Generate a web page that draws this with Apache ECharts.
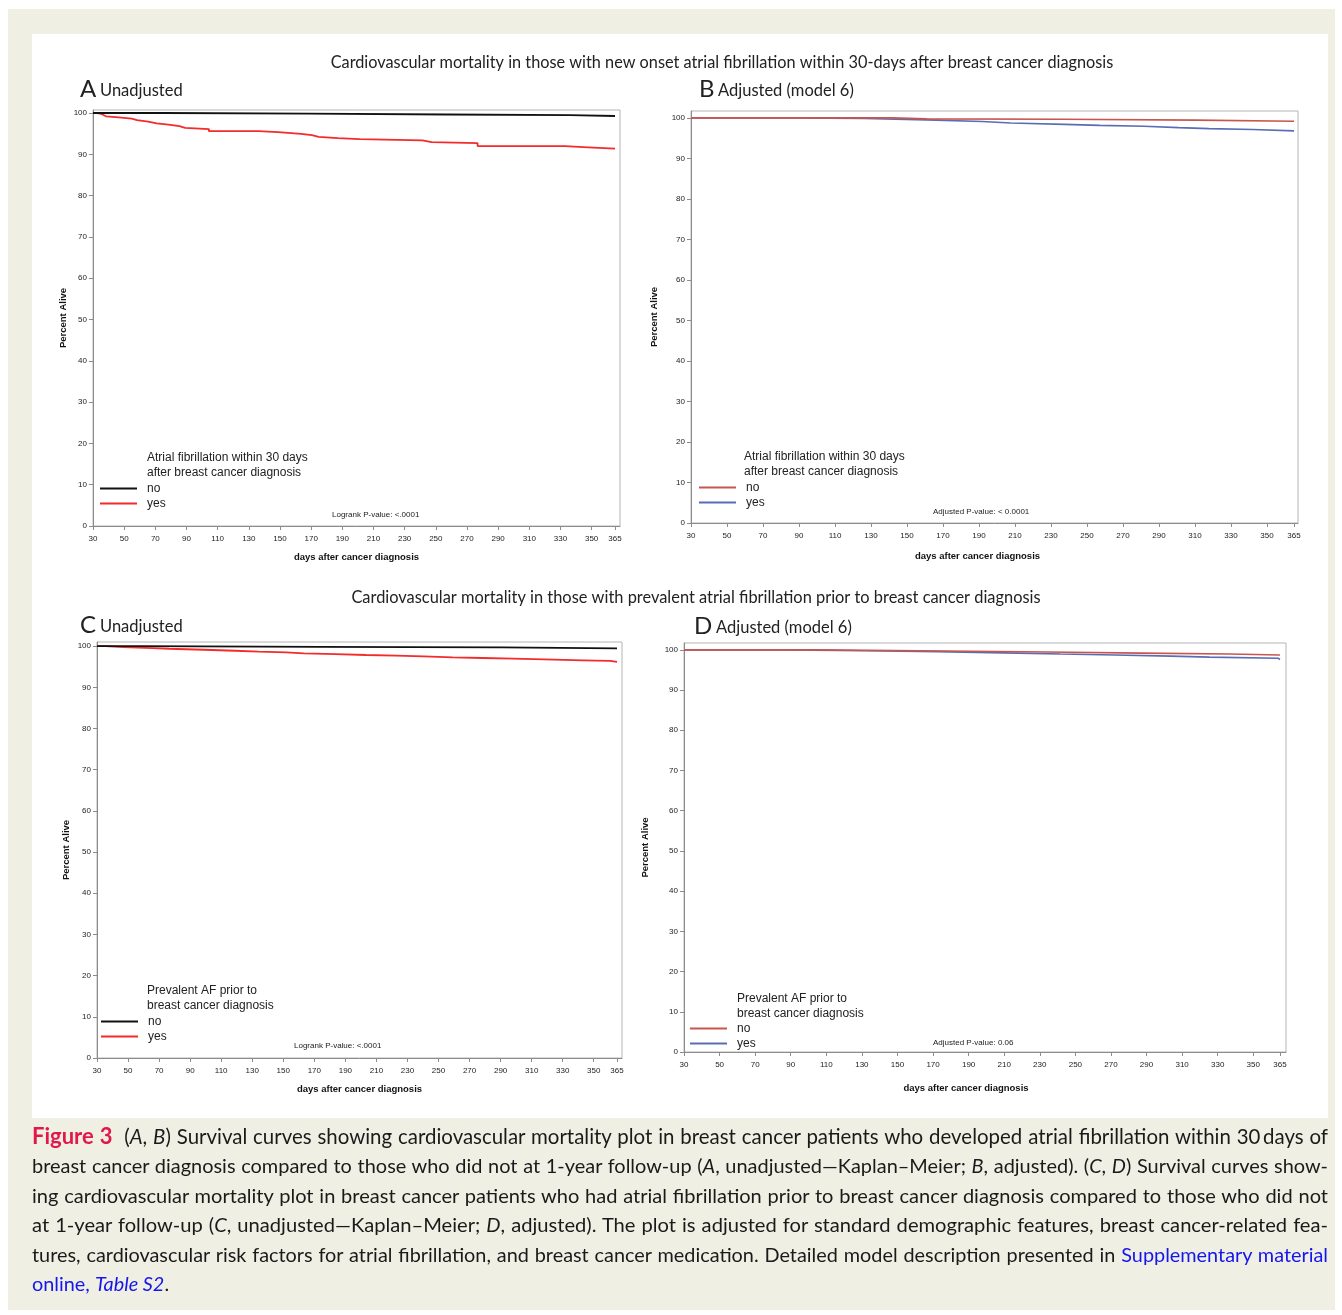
<!DOCTYPE html>
<html><head><meta charset="utf-8">
<script src="https://cdn.jsdelivr.net/npm/echarts@6/dist/echarts.min.js"></script>
<style>
html,body{margin:0;padding:0;background:#fff;}
#frame{position:absolute;left:8px;top:9px;width:1327px;height:1301px;background:#efefe4;}
#chart{position:absolute;left:0;top:0;width:1342px;height:1315px;}
#cap{position:absolute;left:32px;top:1121px;width:1296px;font-family:Lato,'Open Sans',sans-serif;font-size:20px;color:#1a1a1a;line-height:29.4px;}
#cap div{text-align:justify;text-align-last:justify;height:auto;}
#cap div.last{text-align-last:left;}
.fig{color:#e2184a;font-weight:bold;font-size:22px;}
.lk{color:#1515ee;}
</style></head>
<body>
<div id="frame"></div>
<div id="chart"></div>
<div id="cap">
<div><span class="fig">Figure 3</span>&nbsp; (<i>A</i>, <i>B</i>) Survival curves showing cardiovascular mortality plot in breast cancer patients who developed atrial fibrillation within 30&#8201;days of</div>
<div>breast cancer diagnosis compared to those who did not at 1-year follow-up (<i>A</i>, unadjusted—Kaplan–Meier; <i>B</i>, adjusted). (<i>C</i>, <i>D</i>) Survival curves show-</div>
<div>ing cardiovascular mortality plot in breast cancer patients who had atrial fibrillation prior to breast cancer diagnosis compared to those who did not</div>
<div>at 1-year follow-up (<i>C</i>, unadjusted—Kaplan–Meier; <i>D</i>, adjusted). The plot is adjusted for standard demographic features, breast cancer-related fea-</div>
<div>tures, cardiovascular risk factors for atrial fibrillation, and breast cancer medication. Detailed model description presented in <span class="lk">Supplementary material</span></div>
<div class="last"><span class="lk">online, <i>Table S2</i></span>.</div>
</div>
<script>
// ---------- data ----------
const xTicks = [30,50,70,90,110,130,150,170,190,210,230,250,270,290,310,330,350,365];
const yTicks = [0,10,20,30,40,50,60,70,80,90,100];

// Panel A: new onset AF, unadjusted (Kaplan-Meier)
const aNoDays  = [30, 75, 168, 257, 336, 365];
const aNoPct   = [100, 99.84, 99.64, 99.48, 99.28, 99.28];
const aYesDays = [30, 32.4, 34.7, 36.4, 38.3, 46.5, 54.8, 58.3, 65.4, 70.9, 78.4, 85.5, 89.1, 104.4, 136.3, 148.8, 163.5, 170.5, 174.8, 187.1, 201.2, 241.4, 247.3, 276.8, 333.0, 347.7, 365];
const aYesPct  = [100, 99.84, 99.6, 99.2, 98.96, 98.64, 98.3, 97.9, 97.5, 97.2, 96.8, 96.4, 96.1, 95.6, 95.36, 94.96, 94.64, 94.24, 93.9, 93.7, 93.36, 92.96, 92.7, 92.0, 91.7, 91.36, 91.36];

// Panel B: new onset AF, adjusted (model 6)
const bNoDays  = [30, 142.2, 160.9, 236.3, 310.5, 365];
const bNoPct   = [100, 99.76, 99.68, 99.44, 99.16, 99.16];
const bYesDays = [30, 86.9, 125.9, 160.9, 191.7, 207.7, 237.4, 257, 281.5, 301, 317.7, 342.2, 365];
const bYesPct  = [100, 99.84, 99.52, 99.12, 98.72, 98.4, 98.16, 97.92, 97.6, 97.36, 97.12, 96.8, 96.8];

// Panel C: prevalent AF, unadjusted
const cNoDays  = [30, 57.6, 173.6, 291, 365];
const cNoPct   = [100, 99.84, 99.68, 99.44, 99.44];
const cYesDays = [30, 35.2, 47, 65.8, 76.4, 98.9, 118.9, 134.2, 151.9, 163.2, 183.7, 203.3, 222.6, 240.3, 259.2, 278, 298, 318, 343, 360.6, 365];
const cYesPct  = [100, 99.76, 99.52, 99.36, 99.12, 98.88, 98.64, 98.48, 98.24, 98.08, 97.84, 97.68, 97.52, 97.28, 97.12, 96.96, 96.8, 96.56, 96.4, 96.16, 96.16];

// Panel D: prevalent AF, adjusted (model 6)
const dNoDays  = [30, 104.5, 177.2, 233.6, 287.5, 336.7, 365];
const dNoPct   = [100, 99.7, 99.48, 99.18, 98.95, 98.73, 98.73];
const dYesDays = [30, 86.1, 132, 172.3, 209.6, 241.6, 272.3, 303.6, 325.3, 364, 365];
const dYesPct  = [100, 99.78, 99.55, 99.25, 98.95, 98.73, 98.43, 98.2, 97.9, 97.6, 97.6];

const titleTop = 'Cardiovascular mortality in those with new onset atrial fibrillation within 30-days after breast cancer diagnosis';
const titleBottom = 'Cardiovascular mortality in those with prevalent atrial fibrillation prior to breast cancer diagnosis';
const legendHeadTop = 'Atrial fibrillation within 30 days\nafter breast cancer diagnosis';
const legendHeadBottom = 'Prevalent AF prior to\nbreast cancer diagnosis';
const groupNames = ['no', 'yes'];
const xName = 'days after cancer diagnosis';
const yName = 'Percent Alive';

// ---------- layout / styles ----------
const NARROW = "'Liberation Sans Narrow','Arial Narrow','Liberation Sans',Arial,sans-serif";
const ARIAL = "'Liberation Sans',Arial,sans-serif";
const HUM = "Lato,'Open Sans',sans-serif";

const panels = [
  {key:'A', letter:'A', sub:'Unadjusted', lx:80, ly:90, subGap:20, left:93, top:110, width:527, height:416, xmin:30, xmax:368.2, ymax:100.73,
   noD:aNoDays, noP:aNoPct, yesD:aYesDays, yesP:aYesPct, colors:['#111111','#f52a2a'], width2:1.8,
   head:legendHeadTop, hx:147, hy:465.5, legX:100, legY:481, pText:'Logrank P-value: <.0001', px:332, py:515,
   yGap:25, xGap:26, xNamePad:0},
  {key:'B', letter:'B', sub:'Adjusted (model 6)', lx:699, ly:90, subGap:19, left:691, top:111, width:607, height:412, xmin:30, xmax:367.2, ymax:101.7,
   noD:bNoDays, noP:bNoPct, yesD:bYesDays, yesP:bYesPct, colors:['#c8564e','#5a6cb5'], width2:1.6,
   head:legendHeadTop, hx:744, hy:464.5, legX:699, legY:480, pText:'Adjusted P-value: < 0.0001', px:933, py:512,
   yGap:32, xGap:28, xNamePad:34},
  {key:'C', letter:'C', sub:'Unadjusted', lx:80, ly:626, subGap:20, left:97, top:642, width:525, height:416, xmin:30, xmax:368.2, ymax:101.0,
   noD:cNoDays, noP:cNoPct, yesD:cYesDays, yesP:cYesPct, colors:['#111111','#f52a2a'], width2:1.8,
   head:legendHeadBottom, hx:147, hy:998.5, legX:101, legY:1014, pText:'Logrank P-value: <.0001', px:294, py:1046,
   yGap:26, xGap:26, xNamePad:0},
  {key:'D', letter:'D', sub:'Adjusted (model 6)', lx:694, ly:627, subGap:22, left:684, top:643, width:602, height:409, xmin:30, xmax:368.4, ymax:101.7,
   noD:dNoDays, noP:dNoPct, yesD:dYesDays, yesP:dYesPct, colors:['#c8564e','#5a6cb5'], width2:1.6,
   head:legendHeadBottom, hx:737, hy:1006.5, legX:690, legY:1021, pText:'Adjusted P-value: 0.06', px:933, py:1043,
   yGap:34, xGap:31, xNamePad:38}
];

const zip = (xs, ys) => xs.map((x, i) => [x, ys[i]]);
const axisColor = '#8c8c8c';

const grid = [], xAxis = [], yAxis = [], series = [], legend = [];
const graphic = [
  {type:'rect', shape:{x:32, y:34, width:1296, height:1084}, style:{fill:'#ffffff'}, z:-10},
  {type:'text', x:722, y:63, style:{text:titleTop, fontFamily:HUM, fontSize:16.3, fill:'#222', align:'center', verticalAlign:'middle'}},
  {type:'text', x:696, y:598, style:{text:titleBottom, fontFamily:HUM, fontSize:16.4, fill:'#222', align:'center', verticalAlign:'middle'}}
];

panels.forEach((p, i) => {
  grid.push({left:p.left, top:p.top, width:p.width, height:p.height, show:true, borderColor:'#b4b4b4', borderWidth:1,
    containLabel:false, outerBoundsMode:'none'});
  xAxis.push({type:'value', gridIndex:i, min:p.xmin, max:p.xmax,
    axisLine:{show:true, onZero:false, lineStyle:{color:axisColor, width:1}},
    axisTick:{show:true, length:4, customValues:xTicks, lineStyle:{color:axisColor}},
    axisLabel:{customValues:xTicks, fontSize:8, fontFamily:NARROW, color:'#222', margin:9},
    splitLine:{show:false},
    name:xName, nameLocation:'middle', nameGap:p.xGap,
    nameTextStyle:{fontFamily:ARIAL, fontWeight:'bold', fontSize:9.5, color:'#111', padding:[0,p.xNamePad,0,0]}});
  yAxis.push({type:'value', gridIndex:i, min:0, max:p.ymax,
    axisLine:{show:true, onZero:false, lineStyle:{color:axisColor, width:1}},
    axisTick:{show:true, length:4, customValues:yTicks, lineStyle:{color:axisColor}},
    axisLabel:{customValues:yTicks, fontSize:8, fontFamily:NARROW, color:'#222', margin:6},
    splitLine:{show:false},
    name:yName, nameLocation:'middle', nameGap:p.yGap, nameRotate:90,
    nameTextStyle:{fontFamily:ARIAL, fontWeight:'bold', fontSize:9.5, color:'#111'}});
  [1, 0].forEach(k => {
    const d = k === 0 ? zip(p.noD, p.noP) : zip(p.yesD, p.yesP);
    series.push({type:'line', name:p.key + '_' + groupNames[k], xAxisIndex:i, yAxisIndex:i, data:d, step:'end',
      symbol:'none', showSymbol:false, color:p.colors[k], lineStyle:{width:p.width2, color:p.colors[k]},
      z: k === 0 ? 4 : 3, silent:true});
  });
  legend.push({left:p.legX, top:p.legY, orient:'vertical', data:[p.key + '_no', p.key + '_yes'],
    formatter: n => n.split('_')[1], icon:'rect', itemWidth:37, itemHeight:2, itemGap:0, padding:0,
    selectedMode:false, textStyle:{fontFamily:NARROW, fontSize:12, color:'#222', lineHeight:15, padding:[0,0,0,5]}});
  graphic.push({type:'text', x:p.lx, y:p.ly - 1, style:{text:p.letter, fontFamily:HUM, fontSize:24, fill:'#222', align:'left', verticalAlign:'middle'}});
  graphic.push({type:'text', x:p.lx + p.subGap, y:p.ly + 1, style:{text:p.sub, fontFamily:HUM, fontSize:16.5, fill:'#222', align:'left', verticalAlign:'middle'}});
  graphic.push({type:'text', x:p.hx, y:p.hy, style:{text:p.head, fontFamily:NARROW, fontSize:12, lineHeight:15, fill:'#222', align:'left', verticalAlign:'middle'}});
  graphic.push({type:'text', x:p.px, y:p.py, style:{text:p.pText, fontFamily:NARROW, fontSize:8, fill:'#222', align:'left', verticalAlign:'middle'}});
});

const chart = echarts.init(document.getElementById('chart'), null, {renderer:'canvas'});
chart.setOption({animation:false, backgroundColor:'transparent', grid, xAxis, yAxis, series, legend, graphic});

// fit each caption line to one line at the largest size that fits
function fitCaption() {
  const lines = Array.from(document.querySelectorAll('#cap div'));
  let lastFs = 20;
  lines.forEach(d => {
    if (d.classList.contains('last')) { d.style.fontSize = lastFs + 'px'; return; }
    let fs = 21.5;
    d.style.fontSize = fs + 'px';
    while (d.getBoundingClientRect().height > 35 && fs > 12) { fs -= 0.1; d.style.fontSize = fs + 'px'; }
    fs = Math.max(12, fs - 0.15);
    d.style.fontSize = fs + 'px';
    lastFs = fs;
  });
}
fitCaption();
if (document.fonts && document.fonts.ready) document.fonts.ready.then(fitCaption);
</script>
</body></html>
